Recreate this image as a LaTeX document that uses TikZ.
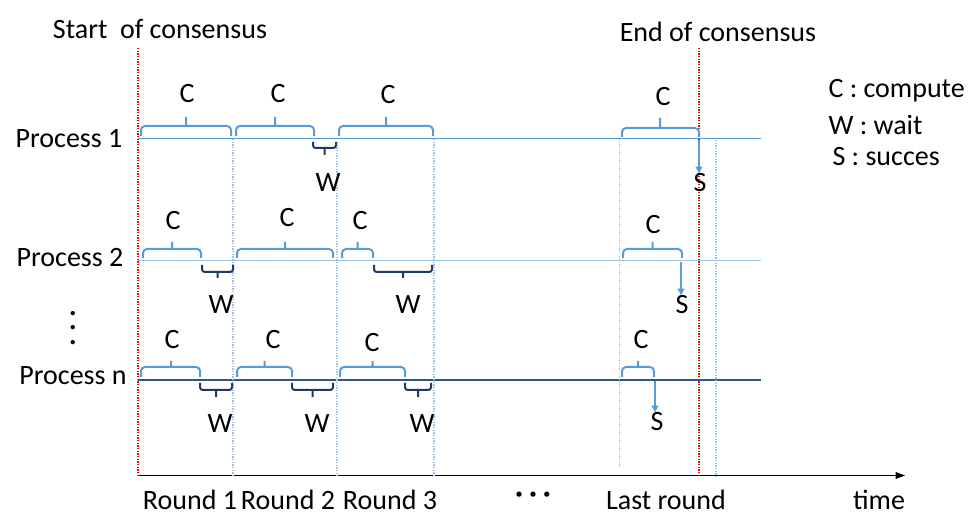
\documentclass[tikz,border=0pt]{standalone}
\usepackage{fontspec}
\setmainfont{Carlito}
\usetikzlibrary{arrows.meta}

\definecolor{cblue}{RGB}{91,155,213}
\definecolor{lblue}{RGB}{157,195,230}
\definecolor{wnavy}{RGB}{32,56,100}
\definecolor{nline}{RGB}{47,85,151}
\definecolor{cred}{RGB}{255,0,0}

\tikzset{every picture/.style={line width=0.75pt}}
\tikzset{
	txt/.style={font=\fontsize{21}{25}\selectfont, inner sep=0pt},
	cbrace/.style={draw=cblue, line width=1.5pt, rounded corners=3pt},
	wbrace/.style={draw=wnavy, line width=1.5pt, rounded corners=2pt},
	rounddiv/.style={draw=lblue, line width=1pt, dash pattern=on 1pt off 1pt},
	consdiv/.style={draw=cred, line width=1pt, dash pattern=on 1pt off 1pt},
	sarrow/.style={draw=cblue, line width=1.5pt, -{Triangle[length=5pt,width=5pt]}}
}

\begin{document}
\begin{tikzpicture}[x=0.75pt,y=0.75pt,yscale=-1,xscale=1]
	\useasboundingbox (0,0) rectangle (975,513);

	% Text Nodes
	\node[txt] (startlbl) at (160,29) {Start\ \ of consensus};
	\node[txt] (endlbl) at (718,32) {End of consensus};
	\node[txt] (p1) at (69,139) {Process 1};
	\node[txt] (p2) at (70,258) {Process 2};
	\node[txt] (pn) at (73,376) {Process n};
	\node[inner sep=0pt, font=\fontsize{10}{12}\selectfont] (vdot) at (73,317) {\scalebox{2.7}{$\vdots$}};
	\node[txt, anchor=west] (legc) at (828,91) {C : compute};
	\node[txt, anchor=west] (legw) at (828,125) {W : wait};
	\node[txt, anchor=west] (legs) at (832,157) {S : succes};

	% Lines
	\coordinate (p1a) at (138,138.5);
	\coordinate (p1b) at (761,138.5);
	\coordinate (p2a) at (138,260.7);
	\coordinate (p2b) at (761,260.7);
	\coordinate (pna) at (138,380);
	\coordinate (pnb) at (761,380);
	\coordinate (ta) at (138,475.5);
	\coordinate (tb) at (905,475.5);
	\draw[cblue] (p1a) -- (p1b);
	\draw[lblue, line width=1pt] (p2a) -- (p2b);
	\draw[nline, line width=1pt] (pna) -- (pnb);
	\draw[-{Triangle[length=7pt,width=5pt]}] (ta) -- (tb);

	% Dotted verticals
	\draw[consdiv] (138,48) -- (138,475.5);
	\draw[consdiv] (699,48) -- (699,475.5);
	\draw[rounddiv] (233,139) -- (233,475.5);
	\draw[rounddiv] (337,142) -- (337,475.5);
	\draw[rounddiv] (434,139) -- (434,475.5);
	\draw[rounddiv] (619.5,139) -- (619.5,467);
	\draw[rounddiv] (716,140) -- (716,477);

	% Process 1 braces
	\draw[cbrace] (141,136) -- (141,126) -- (231,126) -- (231,136) (186,126) -- (186,117);
	\draw[cbrace] (236,136) -- (236,126) -- (314,126) -- (314,136) (275,126) -- (275,117);
	\draw[wbrace] (313,142) -- (313,148) -- (336,148) -- (336,142) (324.5,148) -- (324.5,155);
	\draw[cbrace] (339,136) -- (339,126) -- (433,126) -- (433,136) (386,126) -- (386,117);
	\draw[cbrace] (622,137) -- (622,128) -- (699,128) -- (699,137) (660,128) -- (660,118);
	\node[txt] (c11) at (187,94) {C};
	\node[txt] (c12) at (278,94) {C};
	\node[txt] (w12) at (328,183) {W};
	\node[txt] (c13) at (388,95) {C};
	\node[txt] (c1l) at (663,97) {C};
	\node[txt] (s1) at (700,183) {S};
	\coordinate (s1a) at (699,140);
	\draw[sarrow] (s1a) -- (s1a |- s1.north);

	% Process 2 braces
	\draw[cbrace] (143,258) -- (143,249) -- (201,249) -- (201,258) (172,249) -- (172,242);
	\draw[wbrace] (202,265) -- (202,272) -- (233,272) -- (233,265) (217.5,272) -- (217.5,278);
	\draw[cbrace] (237,258) -- (237,249) -- (333,249) -- (333,258) (285,249) -- (285,242);
	\draw[cbrace] (342,258) -- (342,249) -- (373,249) -- (373,258) (357.5,249) -- (357.5,242);
	\draw[wbrace] (374,265) -- (374,272) -- (432,272) -- (432,265) (403,272) -- (403,278);
	\draw[cbrace] (623,258) -- (623,249) -- (682,249) -- (682,258) (652.5,249) -- (652.5,242);
	\node[txt] (c21) at (173,221) {C};
	\node[txt] (w21) at (221,305) {W};
	\node[txt] (c22) at (287,218) {C};
	\node[txt] (c23) at (360,221) {C};
	\node[txt] (w23) at (408,305) {W};
	\node[txt] (c2l) at (653,225) {C};
	\node[txt] (s2) at (682,305) {S};
	\coordinate (s2a) at (681,262);
	\draw[sarrow] (s2a) -- (s2a |- s2.north);

	% Process n braces
	\draw[cbrace] (141,377) -- (141,367) -- (200,367) -- (200,377) (171,367) -- (171,361);
	\draw[wbrace] (200,383) -- (200,390) -- (232,390) -- (232,383) (216,390) -- (216,397);
	\draw[cbrace] (237,377) -- (237,367) -- (292,367) -- (292,377) (264.5,367) -- (264.5,361);
	\draw[wbrace] (292,383) -- (292,390) -- (333,390) -- (333,383) (312.5,390) -- (312.5,397);
	\draw[cbrace] (340,377) -- (340,367) -- (405,367) -- (405,377) (372.5,367) -- (372.5,361);
	\draw[wbrace] (405,383) -- (405,390) -- (431,390) -- (431,383) (418,390) -- (418,397);
	\draw[cbrace] (622,377) -- (622,367) -- (654,367) -- (654,377) (638,367) -- (638,361);
	\node[txt] (cn1) at (172,340) {C};
	\node[txt] (wn1) at (220,424) {W};
	\node[txt] (cn2) at (273,340) {C};
	\node[txt] (wn2) at (317,424) {W};
	\node[txt] (cn3) at (372,343) {C};
	\node[txt] (wn3) at (422,424) {W};
	\node[txt] (cnl) at (641,340) {C};
	\node[txt] (sn) at (657,422) {S};
	\coordinate (sna) at (655,381);
	\draw[sarrow] (sna) -- (sna |- sn.north);

	% Time axis labels
	\node[txt] (r1) at (190,500) {Round 1};
	\node[txt] (r2) at (288,500) {Round 2};
	\node[txt] (r3) at (390,500) {Round 3};
	\node[txt] (rdots) at (533,497) {\textbf{·\ ·\ ·}};
	\node[txt] (rlast) at (666,500) {Last round};
	\node[txt] (time) at (879,500) {time};

\end{tikzpicture}
\end{document}
